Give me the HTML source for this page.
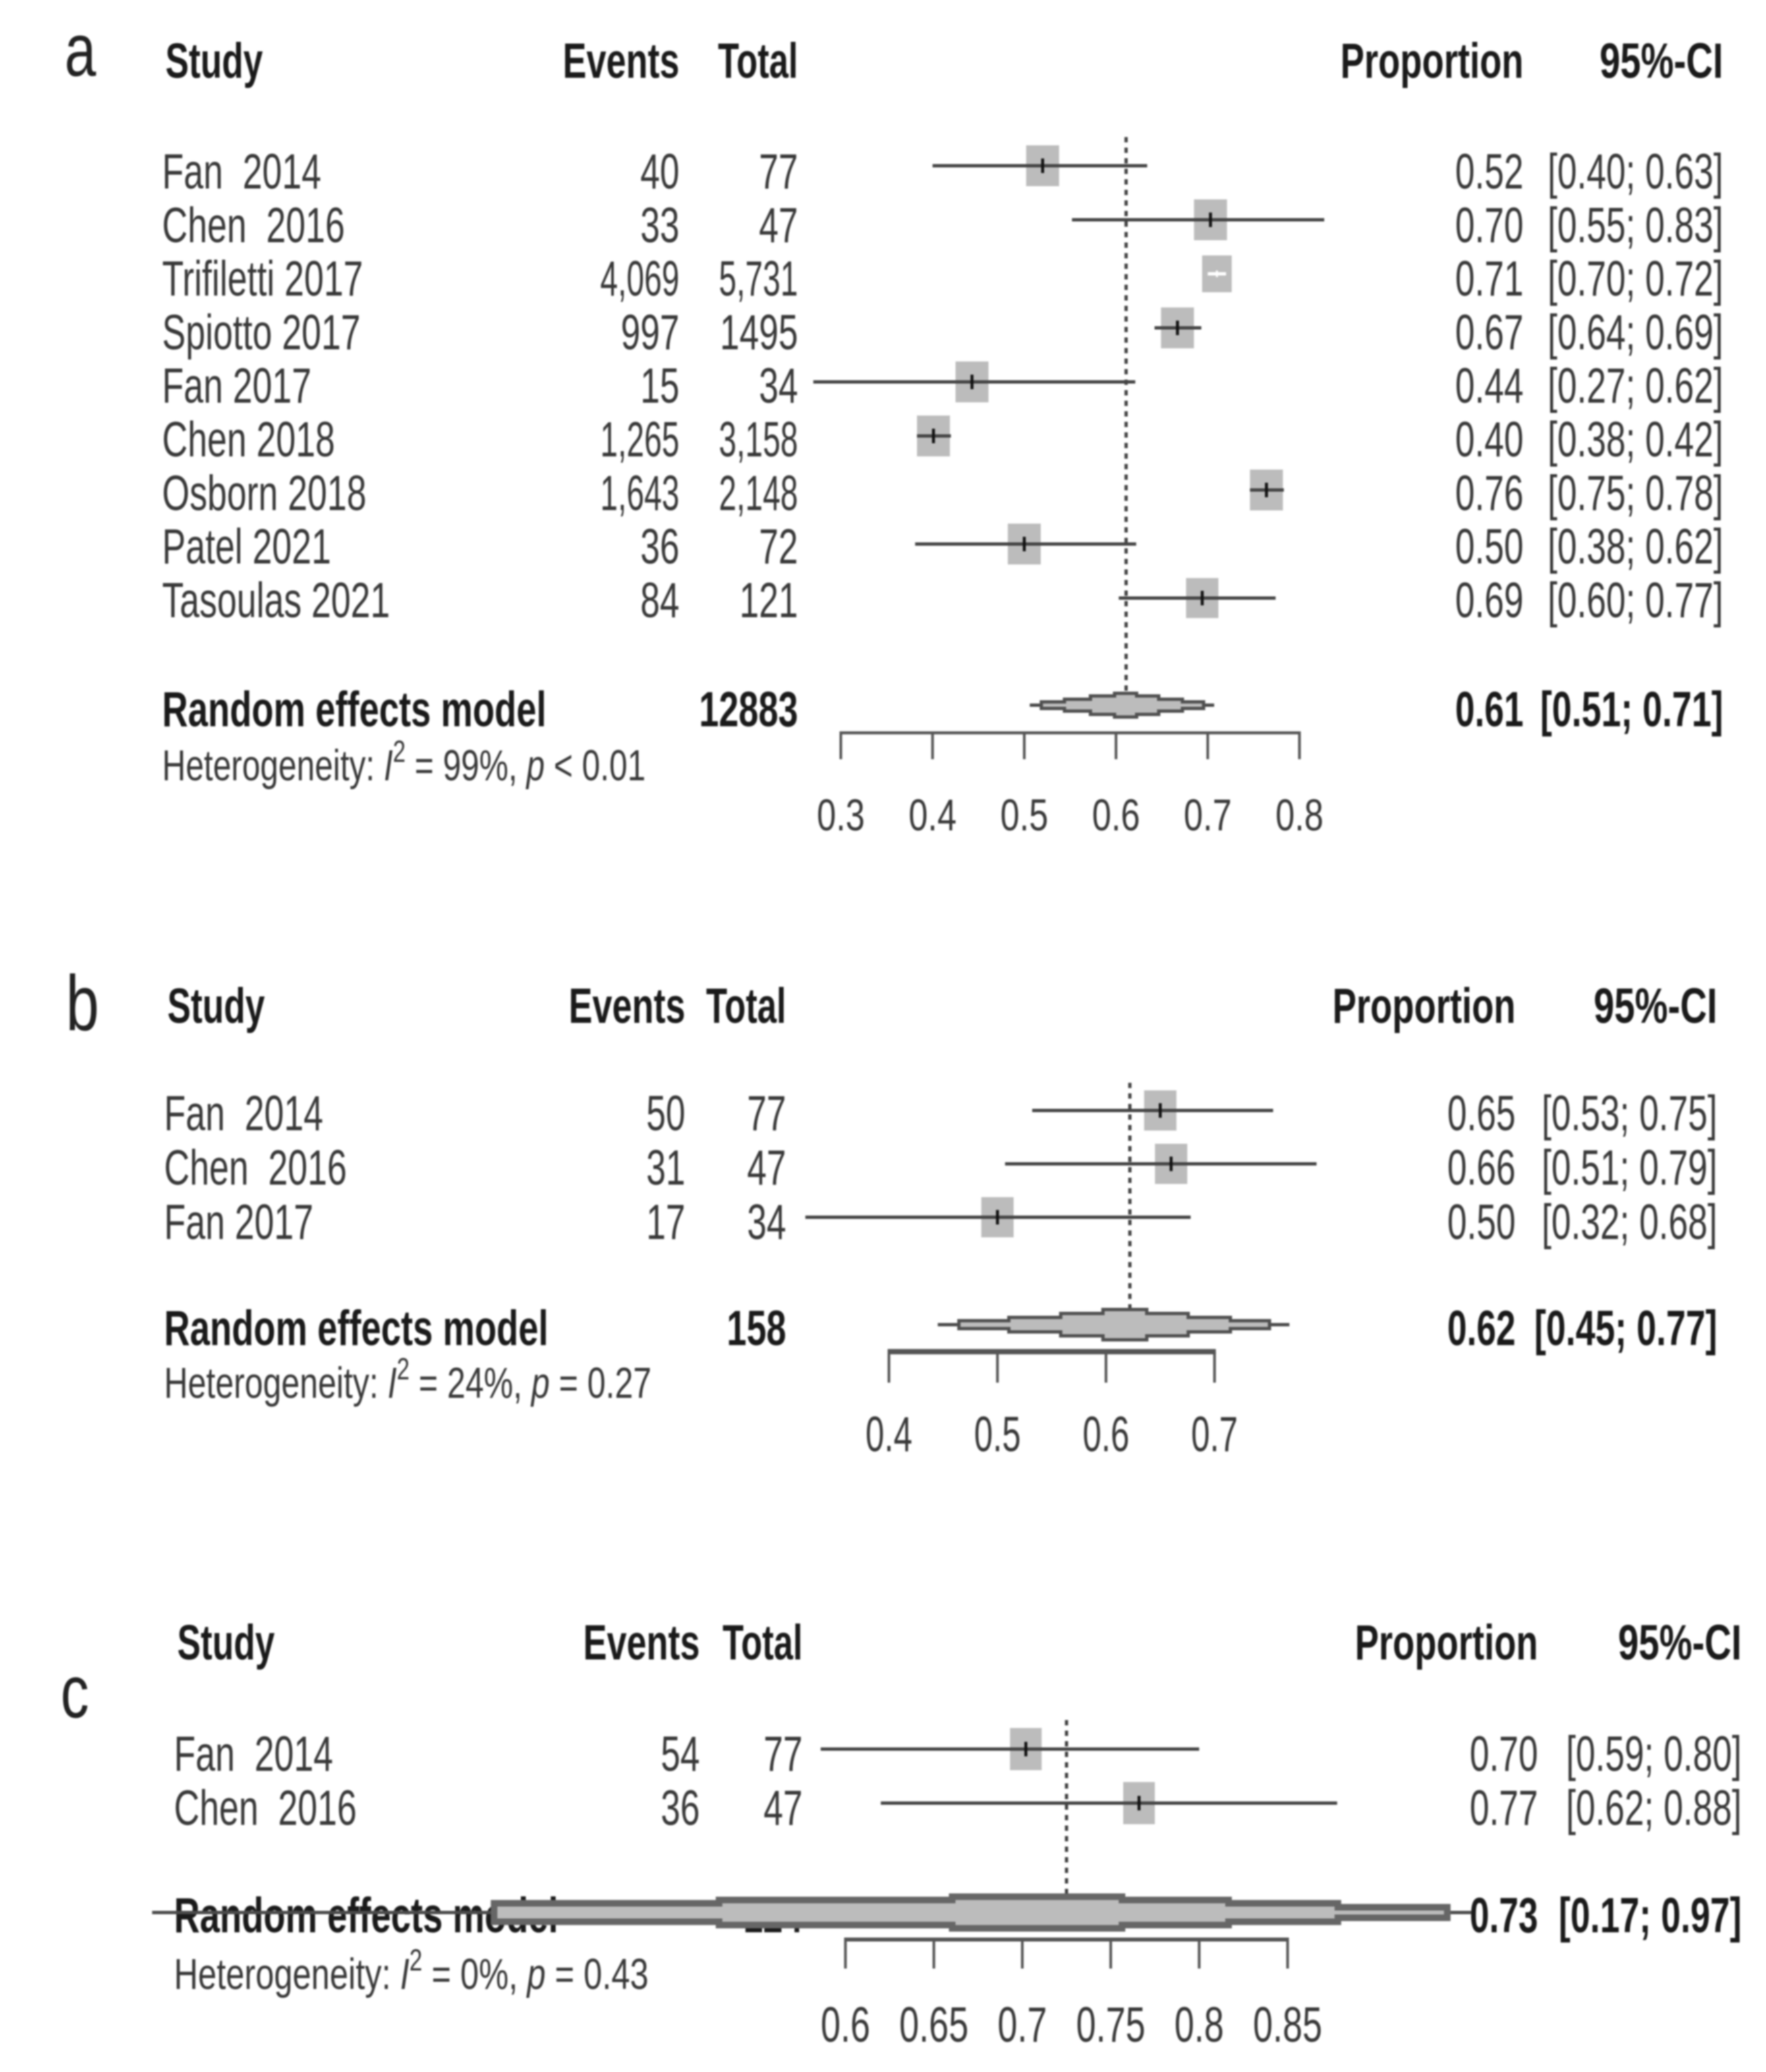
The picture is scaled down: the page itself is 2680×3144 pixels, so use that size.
<!DOCTYPE html>
<html lang="en">
<head>
<meta charset="utf-8">
<title>Forest plots of pooled proportions</title>
<style>
  html, body { margin: 0; padding: 0; background: #fff; }
  body { width: 2680px; height: 3144px; overflow: hidden; }
  svg { display: block; filter: blur(1.4px); }
  text { font-family: "Liberation Sans", sans-serif; white-space: pre; }
</style>
</head>
<body>
<svg id="figure" xmlns="http://www.w3.org/2000/svg" width="2680" height="3144" viewBox="0 0 2680 3144">
  <rect x="0" y="0" width="2680" height="3144" fill="#ffffff"/>
  <g id="panel-a"></g>
  <g id="panel-b"></g>
  <g id="panel-c"></g>
</svg>
<script>
// ---------- Panel a data ----------
const aStudies = ["Fan  2014", "Chen  2016", "Trifiletti 2017", "Spiotto 2017", "Fan 2017", "Chen 2018", "Osborn 2018", "Patel 2021", "Tasoulas 2021"];
const aEvents = ["40", "33", "4,069", "997", "15", "1,265", "1,643", "36", "84"];
const aTotals = ["77", "47", "5,731", "1495", "34", "3,158", "2,148", "72", "121"];
const aEstimates = [0.52, 0.703, 0.71, 0.667, 0.443, 0.401, 0.764, 0.50, 0.694];
const aLows = [0.40, 0.552, 0.70, 0.642, 0.27, 0.383, 0.746, 0.381, 0.603];
const aHighs = [0.634, 0.827, 0.72, 0.693, 0.621, 0.42, 0.783, 0.622, 0.774];
const aWeights = [1, 1, 0.9, 1, 1, 1, 1, 1, 0.98];
const aTicks = [0.3, 0.4, 0.5, 0.6, 0.7, 0.8];
const aTickLabels = ["0.3", "0.4", "0.5", "0.6", "0.7", "0.8"];
const aPooled = [0.611, 0.506, 0.707];
const aPooledLabels = ["12883", "0.61", "[0.51; 0.71]"];
const aHeterogeneity = ["99%", "< 0.01"];

// ---------- Panel b data ----------
const bStudies = ["Fan  2014", "Chen  2016", "Fan 2017"];
const bEvents = ["50", "31", "17"];
const bTotals = ["77", "47", "34"];
const bEstimates = [0.65, 0.66, 0.50];
const bLows = [0.532, 0.507, 0.323];
const bHighs = [0.754, 0.794, 0.678];
const bWeights = [1, 1, 1];
const bTicks = [0.4, 0.5, 0.6, 0.7];
const bTickLabels = ["0.4", "0.5", "0.6", "0.7"];
const bPooled = [0.622, 0.445, 0.769];
const bPooledLabels = ["158", "0.62", "[0.45; 0.77]"];
const bHeterogeneity = ["24%", "= 0.27"];

// ---------- Panel c data ----------
const cStudies = ["Fan  2014", "Chen  2016"];
const cEvents = ["54", "36"];
const cTotals = ["77", "47"];
const cEstimates = [0.702, 0.766];
const cLows = [0.586, 0.62];
const cHighs = [0.80, 0.878];
const cWeights = [1, 1];
const cTicks = [0.6, 0.65, 0.7, 0.75, 0.8, 0.85];
const cTickLabels = ["0.6", "0.65", "0.7", "0.75", "0.8", "0.85"];
const cPooled = [0.725, 0.208, 0.954];
const cPooledLabels = ["124", "0.73", "[0.17; 0.97]"];
const cHeterogeneity = ["0%", "= 0.43"];

const SVG_NS = "http://www.w3.org/2000/svg";
const REG = "#383838", BOLD = "#1a1a1a", BOX = "#bcbcbc";

function shape(parent, tag, name, attrs) {
  const el = document.createElementNS(SVG_NS, tag);
  
  
  Object.keys(attrs).forEach(function (k) { el.setAttribute(k, attrs[k]); });
  parent.appendChild(el);
  return el;
}

function label(parent, name, str, x, y, o) {
  const el = document.createElementNS(SVG_NS, 'text');
  
  
  el.setAttribute('transform', 'translate(' + x + ' ' + y + ') scale(' + (o.sx || 0.7) + ' 1)');
  el.setAttribute('font-size', o.size || 75);
  el.setAttribute('font-weight', o.bold ? 'bold' : 'normal');
  el.setAttribute('text-anchor', o.anchor || 'start');
  el.setAttribute('fill', o.fill || (o.bold ? BOLD : REG));
  el.textContent = str;
  parent.appendChild(el);
  return el;
}

function heterogeneity(parent, values, x, y, sx) {
  const el = document.createElementNS(SVG_NS, 'text');
  
  
  el.setAttribute('transform', 'translate(' + x + ' ' + y + ') scale(' + sx + ' 1)');
  el.setAttribute('font-size', 66);
  el.setAttribute('fill', REG);
  const parts = [
    ["Heterogeneity: ", 0, 66, false],
    ["I", 0, 66, true],
    ["2", -28, 46, false],
    [" = " + values[0] + ", ", 28, 66, false],
    ["p", 0, 66, true],
    [" " + values[1], 0, 66, false]
  ];
  parts.forEach(function (p) {
    const t = document.createElementNS(SVG_NS, 'tspan');
    t.textContent = p[0];
    if (p[1]) t.setAttribute('dy', p[1]);
    t.setAttribute('font-size', p[2]);
    if (p[3]) t.setAttribute('font-style', 'italic');
    el.appendChild(t);
  });
  parent.appendChild(el);
}

// Stair-stepped pooled diamond, drawn outward from the pooled estimate.
function pooledBand(parent, xScale, pooled, y, p) {
  const cx = xScale(pooled[0]), lx = xScale(pooled[1]), rx = xScale(pooled[2]);
  shape(parent, 'line', 'pooled-ci-line', { x1: lx, x2: rx, y1: y, y2: y, stroke: '#4a4a4a', 'stroke-width': 5 });
  const upper = [];
  for (let i = p.leftFractions.length - 1; i >= 0; i--) {
    const px = cx - (cx - lx) * p.leftFractions[i];
    const h = p.bandHeights[i];
    if (i === p.leftFractions.length - 1) upper.push([px, y]);
    upper.push([px, y - h]);
    if (i > 0) upper.push([cx - (cx - lx) * p.leftFractions[i - 1], y - h]);
  }
  for (let i = 0; i < p.rightFractions.length; i++) {
    const px = cx + (rx - cx) * p.rightFractions[i];
    upper.push([px, y - p.bandHeights[i]]);
    if (i < p.rightFractions.length - 1) upper.push([px, y - p.bandHeights[i + 1]]);
  }
  upper.push([cx + (rx - cx) * p.rightFractions[p.rightFractions.length - 1], y]);
  const lower = [];
  for (let i = upper.length - 2; i > 0; i--) lower.push([upper[i][0], 2 * y - upper[i][1]]);
  const pts = upper.concat(lower).map(function (q) { return q[0].toFixed(1) + ',' + q[1].toFixed(1); }).join(' ');
  shape(parent, 'polygon', 'pooled-diamond', { points: pts, fill: BOX, stroke: p.bandStroke, 'stroke-width': p.bandStrokeWidth, 'stroke-linejoin': 'miter' });
}

function countSx(str) { return str.indexOf(',') >= 0 ? 0.64 : 0.71; }

function drawPanel(p) {
  const g = document.getElementById(p.id);
  const x = function (v) { return p.x0 + (v - p.v0) * p.perUnit; };
  const rowY = function (i) { return p.rowFirst + i * p.rowStep; };
  const textY = function (i) { return p.textFirst + i * p.textStep; };

  label(g, 'panel-letter', p.letter, p.letterX, p.letterY, { size: p.letterSize, sx: 0.76, fill: '#222222' });

  label(g, 'study-header', 'Study', p.headerStudyX, p.headerY, { bold: true, sx: 0.71 });
  label(g, 'events-header', 'Events', p.eventsX, p.headerY, { bold: true, sx: 0.72, anchor: 'end' });
  label(g, 'total-header', 'Total', p.totalX, p.headerY, { bold: true, sx: 0.7, anchor: 'end' });
  label(g, 'proportion-header', 'Proportion', p.propX, p.headerY, { bold: true, sx: 0.725, anchor: 'end' });
  label(g, 'ci-header', '95%-CI', p.ciX, p.headerY, { bold: true, sx: 0.75, anchor: 'end' });

  p.studies.forEach(function (s, i) {
    const rowName = 'row-' + (i + 1);
    label(g, rowName + '-study', s, p.nameX, textY(i), { sx: 0.715 });
    label(g, rowName + '-events', p.events[i], p.eventsX, textY(i), { sx: countSx(p.events[i]), anchor: 'end' });
    label(g, rowName + '-total', p.totals[i], p.totalX, textY(i), { sx: countSx(p.totals[i]), anchor: 'end' });
    label(g, rowName + '-proportion', p.estimates[i].toFixed(2), p.propX, textY(i), { sx: 0.71, anchor: 'end' });
    label(g, rowName + '-ci', '[' + p.lows[i].toFixed(2) + '; ' + p.highs[i].toFixed(2) + ']', p.ciX, textY(i), { sx: 0.71, anchor: 'end' });
  });

  label(g, 'random-effects-label', 'Random effects model', p.nameX, p.pooledTextY, { bold: true, sx: 0.725 });
  label(g, 'pooled-total', p.pooledLabels[0], p.totalX, p.pooledTextY, { bold: true, sx: 0.72, anchor: 'end' });
  label(g, 'pooled-proportion', p.pooledLabels[1], p.propX, p.pooledTextY, { bold: true, sx: 0.71, anchor: 'end' });
  label(g, 'pooled-ci', p.pooledLabels[2], p.ciX, p.pooledTextY, { bold: true, sx: 0.716, anchor: 'end' });
  heterogeneity(g, p.het, p.nameX, p.hetY, p.hetSx);

  // reference line
  shape(g, 'line', 'pooled-estimate-reference-line', {
    x1: x(p.pooled[0]), x2: x(p.pooled[0]), y1: p.refTop, y2: p.refBottom,
    stroke: '#444444', 'stroke-width': 5, 'stroke-dasharray': '8 8'
  });

  // study marks
  p.estimates.forEach(function (v, i) {
    const y = rowY(i);
    const w = p.boxW * p.weights[i], h = p.boxH * p.weights[i];
    shape(g, 'rect', 'study-box-' + (i + 1), { x: x(v) - w / 2, y: y - h / 2, width: w, height: h, fill: BOX });
    const span = x(p.highs[i]) - x(p.lows[i]);
    const inside = span < 0.7 * w;
    shape(g, 'line', 'study-ci-' + (i + 1), { x1: x(p.lows[i]), x2: x(p.highs[i]), y1: y, y2: y, stroke: inside ? '#ffffff' : '#444444', 'stroke-width': 5 });
    shape(g, 'line', 'study-estimate-tick-' + (i + 1), { x1: x(v), x2: x(v), y1: y - (inside ? 5 : 11), y2: y + (inside ? 5 : 11), stroke: inside ? '#ffffff' : '#111111', 'stroke-width': inside ? 3 : 4.5 });
  });

  pooledBand(g, x, p.pooled, p.pooledY, p);

  // axis
  const first = p.ticks[0], last = p.ticks[p.ticks.length - 1];
  shape(g, 'line', 'x-axis-line', { x1: x(first) - 2, x2: x(last) + 2, y1: p.axisY, y2: p.axisY, stroke: '#555555', 'stroke-width': p.axisWidth });
  p.ticks.forEach(function (t, i) {
    shape(g, 'line', 'x-axis-tick', { x1: x(t), x2: x(t), y1: p.axisY, y2: p.axisY + p.tickLen, stroke: '#555555', 'stroke-width': 4 });
    label(g, 'x-axis-tick-label', p.tickLabels[i], x(t), p.tickTextY, { size: p.tickSize, sx: p.tickSx, anchor: 'middle' });
  });
}

drawPanel({
  id: 'panel-a', letter: 'a', letterX: 98, letterY: 115, letterSize: 113,
  studies: aStudies, events: aEvents, totals: aTotals, estimates: aEstimates, lows: aLows, highs: aHighs, weights: aWeights,
  ticks: aTicks, tickLabels: aTickLabels, pooled: aPooled, pooledLabels: aPooledLabels, het: aHeterogeneity,
  x0: 1276, v0: 0.3, perUnit: 1392,
  rowFirst: 251.5, rowStep: 82, textFirst: 286, textStep: 81.3,
  headerY: 118, headerStudyX: 251, nameX: 246, eventsX: 1031, totalX: 1211, propX: 2312, ciX: 2615,
  pooledTextY: 1102, hetY: 1184, hetSx: 0.752, pooledY: 1070,
  bandHeights: [18, 14, 9, 5], leftFractions: [0.12, 0.37, 0.64, 0.88], rightFractions: [0.12, 0.37, 0.64, 0.88],
  bandStroke: '#505050', bandStrokeWidth: 5,
  refTop: 208, refBottom: 1050, boxW: 50, boxH: 62,
  axisY: 1112, axisWidth: 4.5, tickLen: 40, tickTextY: 1260, tickSize: 68, tickSx: 0.77
});

drawPanel({
  id: 'panel-b', letter: 'b', letterX: 100, letterY: 1563, letterSize: 119,
  studies: bStudies, events: bEvents, totals: bTotals, estimates: bEstimates, lows: bLows, highs: bHighs, weights: bWeights,
  ticks: bTicks, tickLabels: bTickLabels, pooled: bPooled, pooledLabels: bPooledLabels, het: bHeterogeneity,
  x0: 1349, v0: 0.4, perUnit: 1647,
  rowFirst: 1685, rowStep: 81, textFirst: 1715, textStep: 82.5,
  headerY: 1552, headerStudyX: 254, nameX: 249, eventsX: 1040, totalX: 1193, propX: 2300, ciX: 2606,
  pooledTextY: 2041, hetY: 2121, hetSx: 0.758, pooledY: 2010,
  bandHeights: [23, 17, 11, 6], leftFractions: [0.14, 0.36, 0.63, 0.89], rightFractions: [0.106, 0.366, 0.63, 0.875],
  bandStroke: '#505050', bandStrokeWidth: 5,
  refTop: 1643, refBottom: 1995, boxW: 49, boxH: 61,
  axisY: 2051, axisWidth: 8, tickLen: 47, tickTextY: 2202, tickSize: 75, tickSx: 0.68
});

drawPanel({
  id: 'panel-c', letter: 'c', letterX: 92, letterY: 2606, letterSize: 113,
  studies: cStudies, events: cEvents, totals: cTotals, estimates: cEstimates, lows: cLows, highs: cHighs, weights: cWeights,
  ticks: cTicks, tickLabels: cTickLabels, pooled: cPooled, pooledLabels: cPooledLabels, het: cHeterogeneity,
  x0: 1283, v0: 0.6, perUnit: 2684,
  rowFirst: 2654, rowStep: 82, textFirst: 2687, textStep: 82,
  headerY: 2518, headerStudyX: 269, nameX: 264, eventsX: 1062, totalX: 1218, propX: 2334, ciX: 2643,
  pooledTextY: 2932, hetY: 3018, hetSx: 0.767, pooledY: 2902,
  bandHeights: [24, 19, 14, 8], leftFractions: [0.125, 0.38, 0.626], rightFractions: [0.137, 0.40, 0.67, 0.94],
  bandStroke: '#666666', bandStrokeWidth: 10,
  refTop: 2610, refBottom: 2882, boxW: 48, boxH: 64,
  axisY: 2943, axisWidth: 6, tickLen: 44, tickTextY: 3098, tickSize: 75, tickSx: 0.72
});
</script>
</body>
</html>
